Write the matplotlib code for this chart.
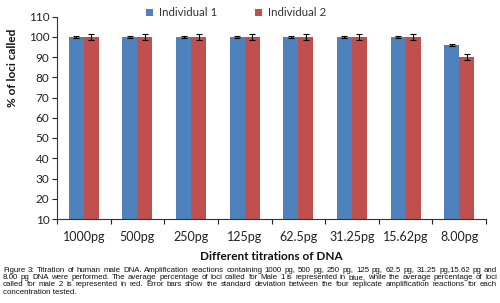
import matplotlib
matplotlib.use("Agg")
import matplotlib.pyplot as plt
import numpy as np

categories = ["1000pg", "500pg", "250pg", "125pg", "62.5pg", "31.25pg", "15.62pg", "8.00pg"]
ind1 = [99.8, 99.8, 99.8, 99.8, 99.8, 99.8, 99.8, 96.0]
ind1_err = [0.5, 0.5, 0.5, 0.5, 0.5, 0.5, 0.5, 0.6]
ind2 = [99.8, 99.8, 99.8, 99.8, 99.8, 99.8, 99.8, 90.0]
ind2_err = [1.4, 1.4, 1.4, 1.4, 1.4, 1.4, 1.4, 1.5]
yticks = [10, 20, 30, 40, 50, 60, 70, 80, 90, 100, 110]
caption_lines = [
    "Figure 3: Titration of human male DNA. Amplification reactions containing 1000 pg, 500 pg, 250 pg, 125 pg, 62.5 pg, 31.25 pg,15.62 pg and",
    "8.00 pg DNA were performed. The average percentage of loci called for Male 1 is represented in blue, while the average percentage of loci",
    "called for male 2 is represented in red. Error bars show the standard deviation between the four replicate amplification reactions for each",
    "concentration tested.",
]

W, H = 500, 303
fig = plt.figure(figsize=(W / 100, H / 100), dpi=100)
ax = fig.add_axes([57 / W, 1 - 219 / H, (486 - 57) / W, (219 - 16.5) / H])

blue = "#4F81BD"
red = "#C0504D"
x = np.arange(len(categories))
bw = 0.28
ax.bar(x - bw / 2, ind1, bw, bottom=0, color=blue, label="Individual 1",
       yerr=ind1_err, error_kw=dict(ecolor="black", elinewidth=0.8, capsize=2.5, capthick=0.8))
ax.bar(x + bw / 2, ind2, bw, bottom=0, color=red, label="Individual 2",
       yerr=ind2_err, error_kw=dict(ecolor="black", elinewidth=0.8, capsize=2.5, capthick=0.8))

ax.set_ylim(10, 110)
ax.set_xlim(-0.5, len(categories) - 0.5)
ax.set_yticks(yticks)
ax.set_xticks(np.arange(len(categories) + 1) - 0.5)
ax.set_xticklabels([])
ax.set_xticks(x, minor=True)
ax.set_xticklabels(categories, minor=True)

tick_font = "Lato"
for lab in ax.get_yticklabels():
    lab.set_fontfamily(tick_font)
    lab.set_fontsize(8.5)
    lab.set_color("#222222")
for lab in ax.get_xticklabels(minor=True):
    lab.set_fontfamily(tick_font)
    lab.set_fontsize(9)
    lab.set_color("#222222")

ax.tick_params(axis="y", direction="out", length=3.5, width=0.8, pad=2, colors="#222222")
ax.tick_params(axis="x", which="major", direction="out", length=3.5, width=0.8, colors="#222222")
ax.tick_params(axis="x", which="minor", length=0, pad=8.5)
for s in ["top", "right"]:
    ax.spines[s].set_visible(False)
for s in ["left", "bottom"]:
    ax.spines[s].set_color("#333333")
    ax.spines[s].set_linewidth(0.8)

fig.text(271 / W, 1 - 257 / H, "Different titrations of DNA", ha="center", va="center",
         fontfamily="Lato", fontweight="bold", fontsize=8.5, color="#111111")
fig.text(13 / W, 1 - 68 / H, "% of loci called", ha="center", va="center", rotation=90,
         fontfamily="Lato", fontweight="bold", fontsize=8.5, color="#111111")

leg = fig.legend(loc="center", bbox_to_anchor=(236 / W, 1 - 13 / H), ncol=2, frameon=False,
                 prop=dict(family="Lato", size=8.3), handlelength=0.6, handleheight=0.6,
                 handletextpad=0.5, columnspacing=3.3, borderaxespad=0)
for t in leg.get_texts():
    t.set_color("#333333")

# justified caption
renderer = fig.canvas.get_renderer()
left_px, right_px = 3, 497
ys = [270, 277.5, 285, 292.5]
cap_font = "Liberation Sans"
probe = fig.text(0, 0, caption_lines[0], fontfamily=cap_font, fontsize=10)
w10 = probe.get_window_extent(renderer).width
probe.remove()
cap_size = 10 * (right_px - left_px) * 0.985 / w10
cap_kw = dict(fontfamily=cap_font, fontsize=cap_size, color="#111111", va="center", ha="left")
for i, (line, yp) in enumerate(zip(caption_lines, ys)):
    words = line.split(" ")
    if i == len(caption_lines) - 1:
        fig.text(left_px / W, 1 - yp / H, line, **cap_kw)
        continue
    texts = [fig.text(0, 1 - yp / H, w, **cap_kw) for w in words]
    widths = [t.get_window_extent(renderer).width for t in texts]
    gap = (right_px - left_px - sum(widths)) / (len(words) - 1)
    xp = left_px
    for t, wd in zip(texts, widths):
        t.set_x(xp / W)
        xp += wd + gap

fig.savefig("out.png", dpi=100)
